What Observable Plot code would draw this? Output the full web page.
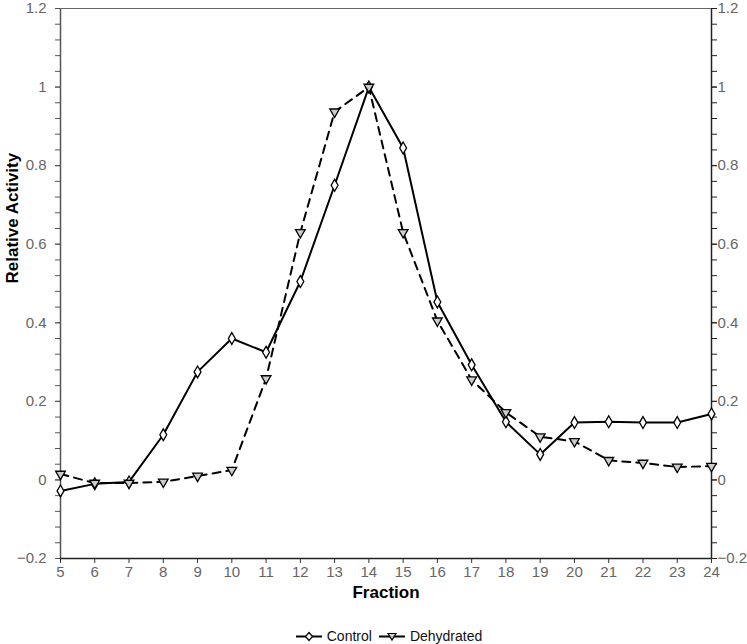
<!DOCTYPE html>
<html>
<head>
<meta charset="utf-8">
<script src="https://cdn.jsdelivr.net/npm/d3@7"></script>
<script src="https://cdn.jsdelivr.net/npm/@observablehq/plot@0.6"></script>
<style>
  body { margin: 0; background: #fff; font-family: "Liberation Sans", Arial, sans-serif; }
  #chart svg { display: block; }
  #chart g[aria-label="x-axis tick label"],
  #chart g[aria-label="y-axis tick label"] { font-size: 15px; }
  #chart g[aria-label="x-axis tick label"] text,
  #chart g[aria-label="y-axis tick label"] text { fill: #666; font-size: 15px; }
  #legend { display: flex; justify-content: center; align-items: center; gap: 6px; font-size: 14px; color: #111; margin-top: 14px; padding-left: 30px; }
  #legend .item { display: flex; align-items: center; gap: 4px; }
</style>
</head>
<body>
<div id="chart"></div>
<div id="legend"></div>
<script>
const fractions = [5, 6, 7, 8, 9, 10, 11, 12, 13, 14, 15, 16, 17, 18, 19, 20, 21, 22, 23, 24];
const control = [-0.028, -0.01, -0.005, 0.115, 0.275, 0.36, 0.325, 0.505, 0.75, 1.0, 0.845, 0.453, 0.293, 0.148, 0.065, 0.146, 0.148, 0.146, 0.146, 0.168];
const dehydrated = [0.015, -0.008, -0.008, -0.005, 0.01, 0.025, 0.258, 0.63, 0.937, 1.0, 0.63, 0.405, 0.255, 0.172, 0.11, 0.098, 0.05, 0.043, 0.033, 0.035];
const yMajor = [-0.2, 0, 0.2, 0.4, 0.6, 0.8, 1, 1.2];
const yMinor = d3.range(0, 36).map(i => -0.2 + i * 0.04);

const fmt = d => (d < 0 ? "\u2212" : "") + String(Math.abs(Math.round(d * 10) / 10));

const controlData = fractions.map((f, i) => ({fraction: f, value: control[i]}));
const dehydData = fractions.map((f, i) => ({fraction: f, value: dehydrated[i]}));

const chart = Plot.plot({
  width: 747,
  height: 614,
  marginLeft: 60,
  marginRight: 36,
  marginTop: 8,
  marginBottom: 56,
  style: {fontFamily: '"Liberation Sans", Arial, sans-serif', fontSize: "15px", color: "#222"},
  x: {domain: [5, 24], axis: null},
  y: {domain: [-0.2, 1.2], axis: null},
  marks: [
    Plot.axisX({ticks: fractions, tickSize: 5, tickPadding: 3, label: null, stroke: "#333"}),
    Plot.axisY({anchor: "left", ticks: yMinor, tickSize: 5, tickFormat: () => "", label: null, stroke: "#555"}),
    Plot.axisY({anchor: "left", ticks: yMajor, tickSize: 5, tickPadding: 9, tickFormat: fmt, label: null, stroke: "#555"}),
    Plot.axisY({anchor: "right", ticks: yMinor, tickSize: 5, tickFormat: () => "", label: null, stroke: "#222"}),
    Plot.axisY({anchor: "right", ticks: yMajor, tickSize: 5, tickPadding: 1, tickFormat: fmt, label: null, stroke: "#222"}),
    Plot.ruleX([5], {stroke: "#555", strokeWidth: 1.5}),
    Plot.ruleX([24], {stroke: "#222", strokeWidth: 1.5}),
    Plot.ruleY([-0.2], {stroke: "#222", strokeWidth: 1.5}),
    Plot.ruleY([1.2], {stroke: "#666", strokeWidth: 1.2}),
    Plot.line(controlData, {x: "fraction", y: "value", stroke: "#000", strokeWidth: 2}),
    Plot.line(dehydData, {x: "fraction", y: "value", stroke: "#000", strokeWidth: 2, strokeDasharray: "8,6"}),
    Plot.dot(controlData, {x: "fraction", y: "value", symbol: "diamond", r: 3.6, fill: "#fff", stroke: "#000", strokeWidth: 1.3}),
    Plot.dot(dehydData, {x: "fraction", y: "value", symbol: "triangle", rotate: 180, r: 3.6, fill: "#ccc", stroke: "#000", strokeWidth: 1.3}),
    Plot.text(["Relative Activity"], {frameAnchor: "left", rotate: -90, dx: -48, fontSize: 17, fontWeight: "bold", fill: "#000"}),
    Plot.text(["Fraction"], {frameAnchor: "bottom", dy: 39, fontSize: 17, fontWeight: "bold", fill: "#000"})
  ]
});
document.getElementById("chart").appendChild(chart);

const legendItems = [
  {label: "Control", symbol: "diamond"},
  {label: "Dehydrated", symbol: "triangle"}
];
const legend = document.getElementById("legend");
for (const it of legendItems) {
  const div = document.createElement("div");
  div.className = "item";
  const marker = it.symbol === "diamond"
    ? '<path d="M14,3.5 L17.5,7.5 L14,11.5 L10.5,7.5 Z" fill="#fff" stroke="#000" stroke-width="1.2"/>'
    : '<path d="M10,4.5 L18,4.5 L14,11 Z" fill="#ccc" stroke="#000" stroke-width="1.2"/>';
  div.innerHTML = `<svg width="28" height="15"><line x1="1" x2="27" y1="7.5" y2="7.5" stroke="#000" stroke-width="2"/>${marker}</svg><span>${it.label}</span>`;
  legend.appendChild(div);
}
</script>
</body>
</html>
